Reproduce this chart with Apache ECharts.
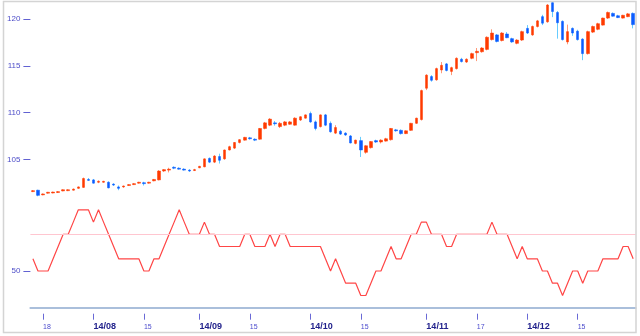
<!DOCTYPE html>
<html><head><meta charset="utf-8">
<script src="https://cdn.jsdelivr.net/npm/echarts@6/dist/echarts.min.js"></script>
<style>html,body{margin:0;padding:0;background:#fff}#c{width:640px;height:336px}</style>
</head><body><div id="c"></div>
<script>
const dates = [
'07/16','07/17','07/18','07/21','07/22','07/23','07/24','07/25','07/28','07/29','07/30','07/31',
'08/01','08/04','08/05','08/06','08/07','08/08','08/11','08/12','08/13','08/14','08/15','08/18','08/19','08/20','08/21','08/22','08/25','08/26','08/27','08/28','08/29',
'09/01','09/02','09/03','09/04','09/05','09/08','09/09','09/10','09/11','09/12','09/15','09/16','09/17','09/18','09/19','09/22','09/23','09/24','09/25','09/26','09/29','09/30',
'10/01','10/02','10/03','10/06','10/07','10/08','10/09','10/10','10/13','10/14','10/15','10/16','10/17','10/20','10/21','10/22','10/23','10/24','10/27','10/28','10/29','10/30','10/31',
'11/03','11/04','11/05','11/06','11/07','11/10','11/11','11/12','11/13','11/14','11/17','11/18','11/19','11/20','11/21','11/24','11/25','11/26','11/27','11/28',
'12/01','12/02','12/03','12/04','12/05','12/08','12/09','12/10','12/11','12/12','12/15','12/16','12/17','12/18','12/19','12/22','12/23','12/24','12/25','12/26','12/29','12/30'];

const opens = [
101.55,101.7,101.2,101.38,101.4,101.45,101.62,101.65,101.7,101.9,
102.0,102.85,102.8,102.55,102.55,102.55,102.35,102.05,102.05,102.2,
102.3,102.45,102.5,102.45,102.7,102.8,103.75,103.85,104.15,104.05,
103.95,103.85,103.8,104.1,104.2,105.1,104.7,105.3,105.05,106.0,
106.2,106.8,107.05,107.3,107.15,107.15,108.3,108.65,108.9,108.5,
108.65,108.75,108.65,109.2,109.4,109.9,109.0,108.5,109.75,108.85,
107.8,108.0,107.8,107.5,106.7,107.0,105.75,106.25,107.0,106.85,
106.95,107.1,108.15,108.1,107.75,108.1,108.85,109.25,112.6,113.85,
113.5,114.55,115.2,114.4,114.7,115.7,115.4,115.8,116.4,116.5,
116.75,117.8,118.3,117.7,118.4,117.9,117.4,117.75,119.0,118.3,
119.2,120.25,119.7,121.75,120.7,119.75,117.55,119.0,118.7,117.85,
116.3,118.6,118.9,119.35,120.1,120.6,120.35,120.1,120.25,120.6];

const highs = [
101.72,101.75,101.35,101.52,101.55,101.6,101.8,101.8,101.88,102.1,
103.05,103.0,102.9,102.75,102.7,102.65,102.45,102.2,102.2,102.35,
102.45,102.6,102.6,102.6,102.9,103.85,103.95,104.1,104.25,104.15,
104.05,103.95,103.98,104.3,105.1,105.2,105.45,105.6,106.05,106.45,
106.85,107.15,107.4,107.4,107.25,108.35,109.0,109.4,109.1,109.0,
109.1,109.1,109.5,109.6,109.8,110.1,109.15,109.8,109.85,109.05,
108.65,108.15,107.9,107.6,107.1,107.4,106.5,106.95,107.1,107.15,
107.3,108.35,108.25,108.2,108.1,108.9,109.45,112.45,114.1,114.0,
114.8,115.4,115.3,114.9,115.9,115.85,115.8,116.4,116.9,117.0,
118.15,118.9,118.4,118.6,118.6,118.0,117.85,118.75,119.35,119.3,
119.9,120.45,121.6,121.85,120.85,119.85,119.4,119.1,118.85,117.95,
118.75,119.3,119.6,120.15,120.8,120.7,120.45,120.45,120.65,120.7];

const lows = [
101.5,101.05,101.15,101.33,101.36,101.4,101.58,101.6,101.66,101.85,
101.95,102.7,102.4,102.45,102.5,101.9,102.15,101.7,101.95,102.15,
102.25,102.4,102.2,102.4,102.65,102.75,103.65,103.6,103.95,103.9,
103.8,103.65,103.75,104.05,104.15,104.6,104.6,104.55,104.95,105.95,
106.1,106.7,107.0,107.1,106.95,107.1,108.2,108.55,108.6,108.35,
108.55,108.7,108.6,109.1,109.35,108.9,108.1,108.4,108.55,107.85,
107.7,107.6,107.5,106.7,106.6,105.25,105.6,106.15,106.75,106.7,
106.9,107.0,107.95,107.65,107.7,108.05,108.8,109.15,112.4,113.3,
113.4,114.2,114.4,114.0,114.6,115.35,115.3,115.7,115.5,116.4,
116.65,117.7,117.5,117.6,117.95,117.45,117.3,117.65,118.4,118.2,
119.1,119.35,119.6,120.2,117.9,117.7,117.3,118.2,117.7,115.6,
116.2,118.5,118.8,119.3,120.0,120.25,120.1,120.05,120.2,119.0];

const closes = [
101.65,101.15,101.3,101.48,101.5,101.55,101.75,101.75,101.82,102.05,
102.95,102.75,102.45,102.65,102.65,101.95,102.25,101.9,102.15,102.3,
102.4,102.55,102.4,102.55,102.85,103.75,103.9,103.95,104.05,103.95,
103.85,103.75,103.9,104.25,105.05,104.7,105.35,104.9,106.0,106.35,
106.8,107.1,107.35,107.2,107.05,108.3,108.9,109.3,108.8,108.85,
109.0,109.0,109.4,109.55,109.75,109.0,108.3,109.75,108.65,107.95,
108.4,107.7,107.6,106.75,107.05,106.0,106.45,106.9,106.85,107.05,
107.2,108.3,108.05,107.75,108.05,108.85,109.4,112.35,114.0,113.45,
114.7,115.05,114.5,114.8,115.8,115.45,115.7,116.3,116.55,116.9,
118.05,118.5,117.6,118.5,118.0,117.55,117.75,118.65,118.5,119.2,
119.8,119.55,121.5,120.8,119.6,117.8,118.65,118.5,117.8,116.3,
118.65,119.2,119.5,120.1,120.7,120.3,120.15,120.4,120.55,119.4];

const psyLine = [
58.3,50,50,50,58.3,66.7,75,75,83.3,91.7,
91.7,91.7,83.3,91.7,83.3,75,66.7,58.3,58.3,58.3,
58.3,58.3,50,50,58.3,58.3,66.7,75,83.3,91.7,
83.3,75,75,75,83.3,75,75,66.7,66.7,66.7,
66.7,66.7,75,75,66.7,66.7,66.7,75,66.7,75,
75,66.7,66.7,66.7,66.7,66.7,66.7,66.7,58.3,50,
58.3,50,41.7,41.7,41.7,33.3,33.3,41.7,50,50,
58.3,66.7,58.3,58.3,66.7,75,75,83.3,83.3,75,
75,75,66.7,66.7,75,75,75,75,75,75,
75,83.3,75,75,75,66.7,58.3,66.7,58.3,58.3,
58.3,50,50,41.7,41.7,33.3,41.7,50,50,41.7,
50,50,50,58.3,58.3,58.3,58.3,66.7,66.7,58.3];

const psyRef = 75;
const priceTicks = [105, 110, 115, 120];
const psyTicks = [50];
const dateTickDates = ['07/18','08/01','08/15','09/01','09/15','10/01','10/15','11/03','11/17','12/01','12/15'];
const dateTickTexts = ['18','14/08','15','14/09','15','14/10','15','14/11','17','14/12','15'];

const FONT = 'Liberation Sans';
const labelOf = {};
dateTickDates.forEach((d, k) => { labelOf[d] = dateTickTexts[k]; });
const tickIdx = new Set(dateTickDates.map(d => dates.indexOf(d)));

const wickData = dates.map((d, i) => [opens[i], closes[i], lows[i], highs[i]]);
const bodyData = dates.map((d, i) => [opens[i], closes[i], Math.min(opens[i], closes[i]), Math.max(opens[i], closes[i])]);

const chart = echarts.init(document.getElementById('c'), null, {renderer: 'canvas'});
const G = {left: 30.4, right: 4.3};
chart.setOption({
  animation: false,
  backgroundColor: '#ffffff',
  grid: [
    {left: G.left, right: G.right, top: 0.3, height: 205.8},
    {left: G.left, right: G.right, top: 197.6, height: 110.1},
    {left: G.left, right: G.right, top: 312.7, height: 1}
  ],
  xAxis: [
    {gridIndex: 0, type: 'category', data: dates, show: false},
    {gridIndex: 1, type: 'category', data: dates,
      axisLine: {show: true, lineStyle: {color: '#aabfdb', width: 2}},
      axisTick: {show: false}, axisLabel: {show: false}},
    {gridIndex: 2, type: 'category', data: dates,
      axisLine: {show: false},
      axisTick: {show: true, alignWithLabel: true, length: 6,
        interval: (i) => tickIdx.has(i),
        lineStyle: {color: '#6a6ad6', width: 1}},
      axisLabel: {show: true, align: 'left', margin: 7,
        interval: (i) => tickIdx.has(i),
        formatter: (v) => {
          const t = labelOf[v] || '';
          return t.indexOf('/') >= 0 ? '{m|' + t + '}' : '{d|' + t + '}';
        },
        rich: {
          m: {fontSize: 9, fontWeight: 'bold', color: '#22228c', fontFamily: FONT, lineHeight: 10, verticalAlign: 'bottom'},
          d: {fontSize: 7, color: '#4a4acc', fontFamily: FONT, lineHeight: 10, verticalAlign: 'bottom'}
        }}}
  ],
  yAxis: [
    {gridIndex: 0, type: 'value', min: 100, max: 122,
      axisLine: {show: false}, splitLine: {show: false},
      axisTick: {show: true, customValues: priceTicks, length: 7, lineStyle: {color: '#6262d2'}},
      axisLabel: {customValues: priceTicks, fontSize: 8, color: '#4c4cc8', margin: 10, fontFamily: FONT}},
    {gridIndex: 1, type: 'value', min: 25, max: 100,
      axisLine: {show: false}, splitLine: {show: false},
      axisTick: {show: true, customValues: psyTicks, length: 7, lineStyle: {color: '#6262d2'}},
      axisLabel: {customValues: psyTicks, fontSize: 8, color: '#4c4cc8', margin: 10, fontFamily: FONT}},
    {gridIndex: 2, type: 'value', show: false}
  ],
  series: [
    {type: 'candlestick', xAxisIndex: 0, yAxisIndex: 0, data: wickData, barWidth: 1,
      itemStyle: {color: '#ff9a78', color0: '#66ccff', borderColor: '#ff9a78', borderColor0: '#66ccff', borderWidth: 1}},
    {type: 'candlestick', xAxisIndex: 0, yAxisIndex: 0, data: bodyData, barWidth: 3,
      itemStyle: {color: '#ff3a00', color0: '#0a5cff', borderColor: '#ff3a00', borderColor0: '#0a5cff', borderColorDoji: '#ff3a00', borderWidth: 0.5}},
    {type: 'line', xAxisIndex: 1, yAxisIndex: 1, data: psyLine, symbol: 'none',
      lineStyle: {color: '#ff4646', width: 1.2},
      markLine: {silent: true, symbol: 'none', label: {show: false},
        lineStyle: {color: '#ffc6d0', width: 1, type: 'solid'},
        data: [{yAxis: psyRef}]}}
  ],
  graphic: [
    {type: 'rect', silent: true, z: 100,
      shape: {x: 3.5, y: 1.5, width: 632.5, height: 331},
      style: {fill: 'none', stroke: '#d4d4d4', lineWidth: 1.5}}
  ]
});
</script></body></html>
